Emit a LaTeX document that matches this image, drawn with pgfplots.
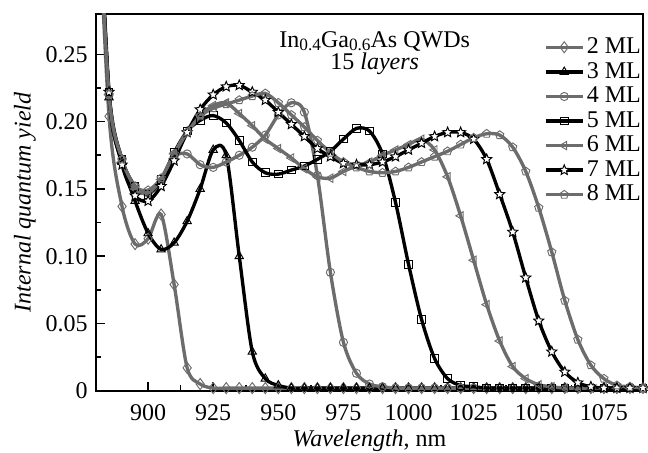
\documentclass[border=0pt]{standalone}
\usepackage{fontspec}
\setmainfont{Liberation Serif}
\usepackage{pgfplots}
\pgfplotsset{compat=1.18}
\usepackage{pgfplotstable}
\usetikzlibrary{plotmarks}
\definecolor{gr}{RGB}{108,108,108}

\pgfdeclareplotmark{fivestar}{%
  \pgfpathmoveto{\pgfqpointpolar{90}{\pgfplotmarksize}}%
  \pgfpathlineto{\pgfqpointpolar{126}{0.45\pgfplotmarksize}}%
  \pgfpathlineto{\pgfqpointpolar{162}{\pgfplotmarksize}}%
  \pgfpathlineto{\pgfqpointpolar{198}{0.45\pgfplotmarksize}}%
  \pgfpathlineto{\pgfqpointpolar{234}{\pgfplotmarksize}}%
  \pgfpathlineto{\pgfqpointpolar{270}{0.45\pgfplotmarksize}}%
  \pgfpathlineto{\pgfqpointpolar{306}{\pgfplotmarksize}}%
  \pgfpathlineto{\pgfqpointpolar{342}{0.45\pgfplotmarksize}}%
  \pgfpathlineto{\pgfqpointpolar{18}{\pgfplotmarksize}}%
  \pgfpathlineto{\pgfqpointpolar{54}{0.45\pgfplotmarksize}}%
  \pgfpathclose
  \pgfusepathqfillstroke}

% 2 ML
\pgfplotstableread{
x y
880 0.40
885 0.204
890 0.137
895 0.109
900 0.113
905 0.131
910 0.079
915 0.017
920 0.005
925 0.002
930 0.002
935 0.002
940 0.002
945 0.002
950 0.002
955 0.002
960 0.002
965 0.002
970 0.002
975 0.002
980 0.002
985 0.002
990 0.002
995 0.002
1000 0.002
1005 0.002
1010 0.002
1015 0.002
1020 0.002
1025 0.002
1030 0.002
1035 0.002
1040 0.002
1045 0.002
1050 0.002
1055 0.002
1060 0.002
1065 0.002
1070 0.002
1075 0.002
1080 0.002
1085 0.002
1090 0.002
}\tA
% 3 ML
\pgfplotstableread{
x y
880 0.42
885 0.218
890 0.170
895 0.141
900 0.117
905 0.105
910 0.110
915 0.126
920 0.150
925 0.179
930 0.175
935 0.100
940 0.029
945 0.009
950 0.004
955 0.002
960 0.002
965 0.002
970 0.002
975 0.002
980 0.002
985 0.002
990 0.002
995 0.002
1000 0.002
1005 0.002
1010 0.002
1015 0.002
1020 0.002
1025 0.002
1030 0.002
1035 0.002
1040 0.002
1045 0.002
1050 0.002
1055 0.002
1060 0.002
1065 0.002
1070 0.002
1075 0.002
1080 0.002
1085 0.002
1090 0.002
}\tB
% 4 ML
\pgfplotstableread{
x y
880 0.40
885 0.220
890 0.172
895 0.152
900 0.147
905 0.155
910 0.174
915 0.176
920 0.168
925 0.166
930 0.170
935 0.175
940 0.181
945 0.190
950 0.205
955 0.214
960 0.207
965 0.160
970 0.088
975 0.036
980 0.013
985 0.005
990 0.003
995 0.002
1000 0.002
1005 0.002
1010 0.002
1015 0.002
1020 0.002
1025 0.002
1030 0.002
1035 0.002
1040 0.002
1045 0.002
1050 0.002
1055 0.002
1060 0.002
1065 0.002
1070 0.002
1075 0.002
1080 0.002
1085 0.002
1090 0.002
}\tC
% 5 ML
\pgfplotstableread{
x y
880 0.40
885 0.222
890 0.172
895 0.152
900 0.146
905 0.157
910 0.177
915 0.193
920 0.201
925 0.2045
930 0.199
935 0.186
940 0.170
945 0.162
950 0.161
955 0.164
960 0.167
965 0.172
970 0.178
975 0.187
980 0.195
985 0.193
990 0.176
995 0.140
1000 0.094
1005 0.053
1010 0.024
1015 0.009
1020 0.004
1025 0.003
1030 0.002
1035 0.002
1040 0.002
1045 0.002
1050 0.002
1055 0.002
1060 0.002
1065 0.002
1070 0.002
1075 0.002
1080 0.002
1085 0.002
1090 0.002
}\tD
% 6 ML
\pgfplotstableread{
x y
880 0.40
885 0.220
890 0.170
895 0.150
900 0.147
905 0.157
910 0.176
915 0.193
920 0.205
925 0.212
930 0.214
935 0.206
940 0.197
945 0.187
950 0.180
955 0.173
960 0.165
965 0.159
970 0.158
975 0.163
980 0.167
985 0.170
990 0.175
995 0.179
1000 0.183
1005 0.187
1010 0.179
1015 0.159
1020 0.130
1025 0.097
1030 0.064
1035 0.037
1040 0.018
1045 0.009
1050 0.0045
1055 0.003
1060 0.002
1065 0.002
1070 0.002
1075 0.002
1080 0.002
1085 0.002
1090 0.002
}\tE
% 7 ML
\pgfplotstableread{
x y
880 0.42
885 0.222
890 0.168
895 0.145
900 0.141
905 0.152
910 0.171
915 0.192
920 0.209
925 0.220
930 0.226
935 0.227
940 0.222
945 0.216
950 0.207
955 0.198
960 0.189
965 0.180
970 0.174
975 0.169
980 0.168
985 0.168
990 0.170
995 0.174
1000 0.179
1005 0.184
1010 0.189
1015 0.192
1020 0.192
1025 0.187
1030 0.172
1035 0.146
1040 0.118
1045 0.084
1050 0.052
1055 0.029
1060 0.014
1065 0.006
1070 0.003
1075 0.002
1080 0.002
1085 0.002
1090 0.002
}\tF
% 8 ML
\pgfplotstableread{
x y
880 0.40
885 0.220
890 0.172
895 0.152
900 0.149
905 0.158
910 0.176
915 0.192
920 0.204
925 0.210
930 0.213
935 0.216
940 0.219
945 0.221
950 0.214
955 0.205
960 0.196
965 0.186
970 0.177
975 0.170
980 0.166
985 0.163
990 0.162
995 0.163
1000 0.166
1005 0.170
1010 0.174
1015 0.178
1020 0.183
1025 0.188
1030 0.191
1035 0.190
1040 0.181
1045 0.163
1050 0.136
1055 0.103
1060 0.067
1065 0.038
1070 0.019
1075 0.009
1080 0.004
1085 0.003
1090 0.002
}\tG

\pgfplotsset{
  gl/.style={color=gr, line width=1.4pt, smooth, tension=0.5,
    mark options={draw=gr, fill=white, line width=0.4pt, solid}},
  bl/.style={color=black, line width=1.4pt, smooth, tension=0.5,
    mark options={draw=black, fill=white, line width=0.4pt, solid}},
}
\newcommand{\sub}[1]{\raisebox{-1.2pt}{\fontsize{7.2}{7.2}\selectfont #1}}

\begin{document}
\begin{tikzpicture}
\begin{axis}[
  scale only axis, width=227.9pt, height=157pt,
  xmin=880, xmax=1090, ymin=0, ymax=0.28,
  /pgf/number format/assume math mode=true,
  xtick={900,925,950,975,1000,1025,1050,1075},
  xticklabels={\textrm{900},\textrm{925},\textrm{950},\textrm{975},\textrm{1000},\textrm{1025},\textrm{1050},\textrm{1075}},
  ytick={0,0.05,0.10,0.15,0.20,0.25},
  yticklabels={\textrm{0},\textrm{0.05},\textrm{0.10},\textrm{0.15},\textrm{0.20},\textrm{0.25}},
  minor x tick num=1, minor y tick num=1,
  tick pos=left, tick align=inside,
  major tick length=3.6pt, minor tick length=2.2pt,
  every tick/.style={black, line width=0.7pt},
  axis line style={line width=0.9pt},
  xticklabel style={anchor=base, yshift=-12.2pt},
  xlabel={\textit{Wavelength}, nm},
  xlabel style={at={(axis description cs:0.5,0)}, anchor=base, yshift=-23.3pt},
  ylabel={\textit{Internal quantum yield}},
  ylabel style={at={(axis description cs:-0.13,0.5)}, anchor=center},
  legend style={at={(axis description cs:1,1)}, anchor=north east,
    xshift=0.3pt, yshift=-8.6pt, draw=none, fill=none, inner sep=0pt,
    row sep=0.15pt, nodes={inner sep=1pt}, cells={anchor=west}},
  legend image code/.code={\draw[mark repeat=2,mark phase=2,#1] plot coordinates {(0pt,0pt)(7.7pt,0pt)(15.4pt,0pt)};},
]
\addplot[gl, mark=diamond, mark size=2.3pt] table {\tA};
\addlegendentry{2 ML}
\addplot[bl, mark=triangle, mark size=2pt] table {\tB};
\addlegendentry{3 ML}
\addplot[gl, mark=o, mark size=1.7pt] table {\tC};
\addlegendentry{4 ML}
\addplot[bl, mark=square, mark size=1.6pt] table {\tD};
\addlegendentry{5 ML}
\addplot[gl, mark=triangle, mark size=2pt, mark options={draw=gr, fill=white, line width=0.4pt, solid, rotate=90}] table {\tE};
\addlegendentry{6 ML}
\addplot[bl, mark=fivestar, mark size=2.2pt] table {\tF};
\addlegendentry{7 ML}
\addplot[gl, mark=pentagon, mark size=1.8pt] table {\tG};
\addlegendentry{8 ML}
\node[anchor=base] at (axis cs:987,0.2552) {In\sub{0.4}Ga\sub{0.6}As QWDs};
\node[anchor=base] at (axis cs:987,0.2388) {15 \textit{layers}};
\coordinate (SW) at (rel axis cs:0,0);
\coordinate (NE) at (rel axis cs:1,1);
\end{axis}
\pgfresetboundingbox
\path[use as bounding box] ([shift={(-40pt,-25.54pt)}]SW) rectangle ([shift={(2.1pt,5.83pt)}]NE);
\end{tikzpicture}
\end{document}
